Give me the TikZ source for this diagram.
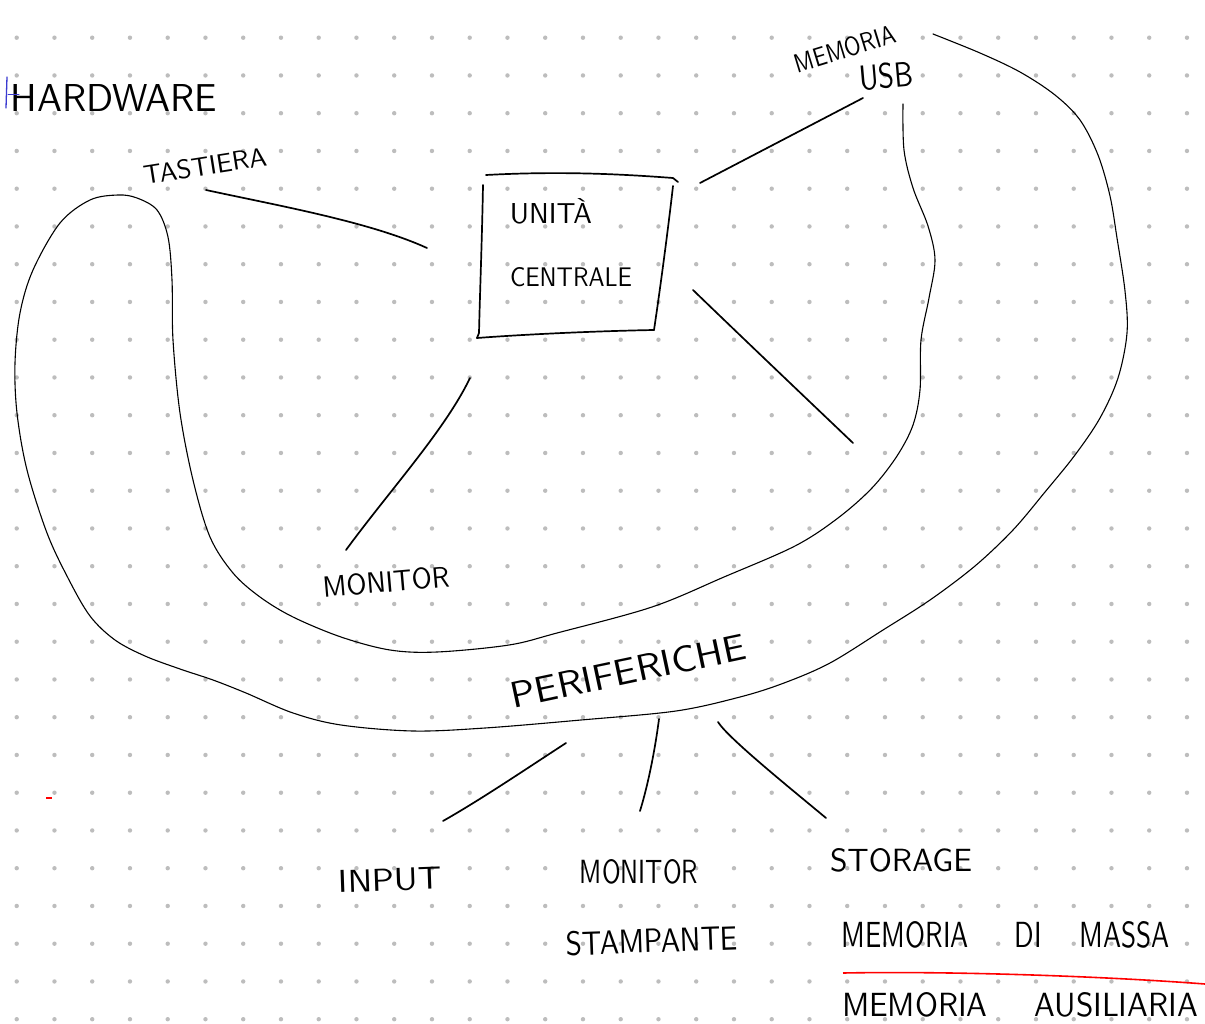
\documentclass[tikz,border=0pt]{standalone}
\usepackage{fontspec}
\usepackage{graphicx}
\definecolor{dotc}{HTML}{BDBDBD}
\definecolor{inkblue}{HTML}{3A3AD0}
\newcommand\hwbox[3]{\resizebox{#1pt}{#2pt}{#3}}
\tikzset{
  hw/.style={inner sep=0pt, outer sep=0pt, font=\sffamily},
  pen/.style={line width=1.7pt, line cap=round, line join=round},
  band/.style={line width=1.1pt, line cap=round, line join=round},
}
\begin{document}
\begin{tikzpicture}[x=1pt, y=-1pt]
\useasboundingbox (0,0) rectangle (1205,1024);
\fill[white] (0,0) rectangle (1205,1024);
% dotted paper
\foreach \i in {0,...,31}{
  \foreach \j in {0,...,26}{
    \fill[dotc] (16.7+37.75*\i, 37.7+37.75*\j) circle[radius=2.2pt];
  }
}
% labels
\node[hw] (hardware) at (114,98) {\hwbox{206}{27}{HARDWARE}};
\node[hw, rotate=9] (tastiera) at (205,166) {\hwbox{124}{19}{TASTIERA}};
\node[hw, rotate=17] (memoria) at (845,49) {\hwbox{104}{19}{MEMORIA}};
\node[hw, rotate=5] (usb) at (886,76) {\hwbox{54}{25}{USB}};
\node[hw] (unita) at (551,211) {\hwbox{82}{25}{UNITÀ}};
\node[hw] (centrale) at (571,277) {\hwbox{122}{19}{CENTRALE}};
\node[hw, rotate=5] (monitorA) at (386,582) {\hwbox{127}{21}{MONITOR}};
\node[hw, rotate=12] (periferiche) at (628,671) {\hwbox{240}{26}{PERIFERICHE}};
\node[hw, rotate=2] (input) at (390,880) {\hwbox{104}{22}{INPUT}};
\node[hw] (monitorB) at (639,872) {\hwbox{118}{24}{MONITOR}};
\node[hw, rotate=2] (stampante) at (652,941) {\hwbox{172}{24}{STAMPANTE}};
\node[hw] (storage) at (901,860) {\hwbox{142}{23}{STORAGE}};
\node[hw] (massa) at (1006,935) {\hwbox{328}{26}{MEMORIA\hspace{1.7em}DI\hspace{1.4em}MASSA}};
\node[hw] (ausiliaria) at (1020,1005) {\hwbox{356}{24}{MEMORIA\hspace{1.5em}AUSILIARIA}};
% blue stroke on H
\draw[inkblue, line width=1.3pt, line cap=round] (7,77) -- (6,108);
\draw[inkblue, line width=1pt, line cap=round] (8,95) -- (19,95);
% red marks
\draw[red, line width=1.5pt] (46,798) -- (52,798);
\coordinate (redA) at (843,973);
\coordinate (redB) at (1205,984);
\draw[red, line width=1.6pt] (redA) .. controls (950,971) and (1100,976) .. (redB);
% central unit box (hand drawn)
\coordinate (bTL) at (486,175);
\coordinate (bTR) at (673,178);
\coordinate (bLT) at (483,185);
\coordinate (bBL) at (477,338);
\coordinate (bRT) at (673,186);
\coordinate (bBR) at (654,330);
\draw[pen] (bTL) .. controls (560,171) and (620,174) .. (bTR) -- (678,182);
\draw[pen] (bLT) .. controls (482,240) and (480,290) .. (479,333) -- (bBL);
\draw[pen] (bBL) .. controls (530,334) and (600,331) .. (bBR);
\draw[pen] (bRT) .. controls (668,230) and (660,290) .. (bBR);
% connectors
\coordinate (tA) at (206,190);
\coordinate (tB) at (427,248);
\draw[pen] (tA) .. controls (280,206) and (370,222) .. (tB);
\coordinate (uA) at (863,98);
\coordinate (uB) at (700,183);
\draw[pen] (uA) -- (uB);
\coordinate (rA) at (693,290);
\coordinate (rB) at (853,443);
\draw[pen] (rA) .. controls (750,345) and (810,402) .. (rB);
\coordinate (mA) at (470,378);
\coordinate (mB) at (346,550);
\draw[pen] (mA) .. controls (445,430) and (390,490) .. (mB);
\coordinate (iA) at (566,743);
\coordinate (iB) at (443,821);
\draw[pen] (iA) .. controls (520,773) and (480,800) .. (iB);
\coordinate (sA) at (659,719);
\coordinate (sB) at (640,811);
\draw[pen] (sA) .. controls (655,750) and (648,785) .. (sB);
\coordinate (gA) at (718,722);
\coordinate (gB) at (826,818);
\draw[pen] (gA) .. controls (728,738) and (790,788) .. (gB);
% big band around the peripherals
\draw[band] plot[smooth, tension=0.55] coordinates {
 (903,104) (904,150) (913,188) (928,226) (935,260) (929,298) (921,340)
 (920,390) (913,425) (897,456) (872,488) (838,518) (795,546) (724,577)
 (652,607) (557,633) (509,645) (437,652) (390,650) (341,637) (293,617)
 (260,597) (233,573) (210,537) (193,480) (180,413) (173,340) (172,280)
 (168,237) (157,210) (137,198) (118,195) (90,200) (60,223) (33,270)
 (20,313) (15,363) (17,413) (27,470) (47,533) (68,578) (90,616)
 (115,640) (145,656) (180,669) (213,680) (246,693) (293,713) (341,725)
 (413,731) (485,728) (581,720) (676,711) (740,697) (784,683) (830,663)
 (883,630) (930,600) (975,566) (1013,530) (1045,492) (1075,455)
 (1100,418) (1118,378) (1127,333) (1125,291) (1117,238) (1110,196)
 (1098,155) (1080,120) (1055,95) (1020,72) (980,53) (933,34)};
\end{tikzpicture}
\end{document}
